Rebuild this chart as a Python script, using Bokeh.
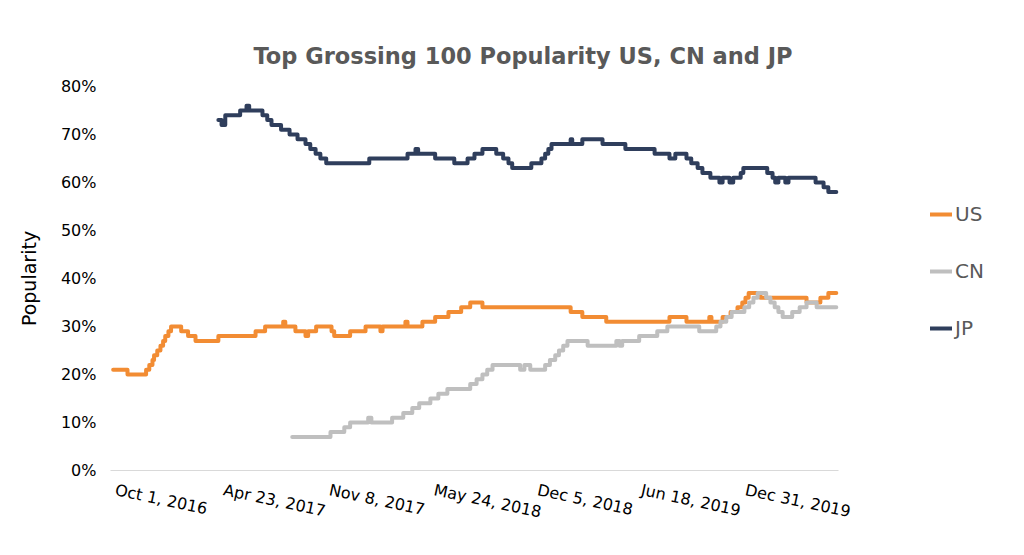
import pandas as pd
from bokeh.plotting import figure
from bokeh.models import FixedTicker, PrintfTickFormatter, Legend, LegendItem, Title, Range1d
from bokeh.embed import file_html
from bokeh.resources import INLINE

# ---------------- data (values in %) ----------------
us_dates = ["2016-09-27", "2016-10-24", "2016-11-28", "2016-12-04", "2016-12-10", "2016-12-13",
            "2016-12-19", "2016-12-25", "2016-12-30", "2017-01-03", "2017-01-09", "2017-01-14",
            "2017-02-02", "2017-02-15", "2017-03-01", "2017-04-13", "2017-06-22", "2017-07-10",
            "2017-08-13", "2017-08-17", "2017-09-05", "2017-09-24", "2017-09-29", "2017-10-14",
            "2017-11-12", "2017-11-17", "2017-12-17", "2018-01-15", "2018-02-12", "2018-02-16",
            "2018-03-31", "2018-04-04", "2018-05-02", "2018-05-26", "2018-06-20", "2018-07-14",
            "2018-07-31", "2018-08-23", "2019-02-05", "2019-02-27", "2019-04-13", "2019-08-10",
            "2019-09-11", "2019-10-24", "2019-10-28", "2019-11-18", "2019-12-03", "2019-12-16",
            "2019-12-25", "2019-12-31", "2020-01-06", "2020-01-28", "2020-04-24", "2020-05-20",
            "2020-06-04", "2020-06-19"]
us_values = [21, 20, 21, 22, 23, 24,
             25, 26, 27, 28, 29, 30,
             29, 28, 27, 28, 29, 30,
             31, 30, 29, 28, 29, 30,
             29, 28, 29, 30, 29, 30,
             31, 30, 31, 32, 33, 34,
             35, 34, 33, 32, 31, 32,
             31, 32, 31, 32, 33, 34,
             35, 36, 37, 36, 35, 36,
             37, 37]

cn_dates = ["2017-08-30", "2017-11-10", "2017-12-06", "2017-12-17", "2018-01-20", "2018-01-26",
            "2018-03-06", "2018-03-27", "2018-04-13", "2018-04-26", "2018-05-17", "2018-06-01",
            "2018-06-18", "2018-07-31", "2018-08-12", "2018-08-23", "2018-09-01", "2018-09-11",
            "2018-11-02", "2018-11-10", "2018-11-21", "2018-12-19", "2018-12-28", "2019-01-07",
            "2019-01-14", "2019-01-22", "2019-01-30", "2019-03-09", "2019-05-02", "2019-05-08",
            "2019-05-13", "2019-06-14", "2019-07-18", "2019-08-06", "2019-10-05", "2019-11-06",
            "2019-11-14", "2019-11-25", "2019-12-05", "2019-12-29", "2020-01-07", "2020-01-15",
            "2020-01-23", "2020-02-08", "2020-02-16", "2020-02-24", "2020-03-02", "2020-03-10",
            "2020-03-28", "2020-04-11", "2020-04-24", "2020-05-13", "2020-06-19"]
cn_values = [7, 8, 9, 10, 11, 10,
             11, 12, 13, 14, 15, 16,
             17, 18, 19, 20, 21, 22,
             21, 22, 21, 22, 23, 24,
             25, 26, 27, 26, 27, 26,
             27, 28, 29, 30, 29, 30,
             31, 32, 33, 34, 35, 36,
             37, 36, 35, 34, 33, 32,
             33, 34, 35, 34, 34]

jp_dates = ["2017-04-13", "2017-04-19", "2017-04-26", "2017-05-24", "2017-06-05", "2017-06-10",
            "2017-07-05", "2017-07-14", "2017-07-22", "2017-08-09", "2017-08-25", "2017-09-09",
            "2017-09-24", "2017-10-03", "2017-10-13", "2017-10-22", "2017-11-02", "2018-01-22",
            "2018-04-04", "2018-04-19", "2018-04-24", "2018-05-26", "2018-07-01", "2018-07-26",
            "2018-08-08", "2018-08-23", "2018-09-18", "2018-10-01", "2018-10-11", "2018-10-18",
            "2018-11-23", "2018-12-12", "2018-12-19", "2018-12-25", "2018-12-31", "2019-02-05",
            "2019-02-08", "2019-02-27", "2019-04-06", "2019-05-19", "2019-07-13", "2019-08-10",
            "2019-08-21", "2019-09-11", "2019-09-20", "2019-10-02", "2019-10-11", "2019-10-26",
            "2019-11-12", "2019-11-18", "2019-12-01", "2019-12-08", "2019-12-22", "2019-12-27",
            "2020-02-10", "2020-02-20", "2020-02-25", "2020-03-02", "2020-03-15", "2020-03-21",
            "2020-05-11", "2020-05-26", "2020-06-04", "2020-06-19"]
jp_values = [73, 72, 74, 75, 76, 75,
             74, 73, 72, 71, 70, 69,
             68, 67, 66, 65, 64, 65,
             66, 67, 66, 65, 64, 65,
             66, 67, 66, 65, 64, 63,
             64, 65, 66, 67, 68, 69,
             68, 69, 68, 67, 66, 65,
             66, 65, 64, 63, 62, 61,
             60, 61, 60, 61, 62, 63,
             62, 61, 60, 61, 60, 61,
             60, 59, 58, 58]

tick_dates = ["2016-10-01", "2017-04-23", "2017-11-08", "2018-05-24",
              "2018-12-05", "2019-06-18", "2019-12-31"]
tick_labels = ["Oct 1, 2016", "Apr 23, 2017", "Nov 8, 2017", "May 24, 2018",
               "Dec 5, 2018", "Jun 18, 2019", "Dec 31, 2019"]
y_ticks = [0, 10, 20, 30, 40, 50, 60, 70, 80]

series_names = ["US", "CN", "JP"]
series_colors = ["#F28C33", "#BFBFBF", "#2F3E5C"]

FONT = "DejaVu Sans"

# axis extent (the frame runs on to the right to hold the legend)
axis_start = pd.Timestamp("2016-09-22")
axis_end = pd.Timestamp("2020-06-23")
view_end = pd.Timestamp("2021-04-24")


def ms(d):
    return pd.Timestamp(d).value // 10**6


p = figure(width=1008, height=539, x_axis_type="datetime",
           output_backend="svg", toolbar_location=None,
           x_range=Range1d(axis_start, view_end),
           y_range=Range1d(0, 80),
           min_border_left=110, min_border_right=8,
           min_border_top=86, min_border_bottom=69)
p.outline_line_color = None
p.xgrid.visible = False
p.ygrid.visible = False
p.background_fill_color = "white"
p.border_fill_color = "white"

renderers = []
for dates, vals, color in [(us_dates, us_values, series_colors[0]),
                           (cn_dates, cn_values, series_colors[1]),
                           (jp_dates, jp_values, series_colors[2])]:
    r = p.step(pd.to_datetime(dates), vals, mode="after", line_color=color,
               line_width=4, line_join="round", line_cap="round")
    renderers.append(r)

# x axis
xa = p.xaxis[0]
xa.bounds = (ms(axis_start), ms(axis_end))
xa.ticker = FixedTicker(ticks=[ms(d) for d in tick_dates])
xa.major_label_overrides = {ms(d): lab for d, lab in zip(tick_dates, tick_labels)}
xa.major_label_orientation = -0.21
xa.major_label_standoff = 19
xa.major_tick_in = 0
xa.major_tick_out = 0
xa.minor_tick_in = 0
xa.minor_tick_out = 0
xa.axis_line_color = "#D9D9D9"
xa.axis_line_width = 1
xa.major_label_text_font = FONT
xa.major_label_text_font_size = "16px"
xa.major_label_text_color = "#000000"

# y axis
ya = p.yaxis[0]
ya.ticker = FixedTicker(ticks=y_ticks)
ya.formatter = PrintfTickFormatter(format="%d%%")
ya.major_tick_in = 0
ya.major_tick_out = 0
ya.minor_tick_in = 0
ya.minor_tick_out = 0
ya.axis_line_color = None
ya.major_label_standoff = 14
ya.major_label_text_font = FONT
ya.major_label_text_font_size = "16px"
ya.major_label_text_color = "#000000"
ya.axis_label = "Popularity"
ya.axis_label_text_font = FONT
ya.axis_label_text_font_size = "19px"
ya.axis_label_text_font_style = "normal"
ya.axis_label_text_color = "#000000"
ya.axis_label_standoff = 18

legend = Legend(items=[LegendItem(label=n, renderers=[r]) for n, r in zip(series_names, renderers)],
                location=(820, 130), orientation="vertical",
                background_fill_alpha=0, border_line_color=None,
                padding=0, margin=0, spacing=33,
                glyph_width=22, glyph_height=20, label_standoff=3,
                label_text_font=FONT, label_text_font_size="20px",
                label_text_color="#595959")
p.add_layout(legend, "center")

title = Title(text="Top Grossing 100 Popularity US, CN and JP",
              align="left", offset=143, standoff=36,
              text_font=FONT, text_font_size="22.5px", text_font_style="bold",
              text_color="#595959")
p.add_layout(title, "above")

open("out.html", "w").write(file_html(p, INLINE))
